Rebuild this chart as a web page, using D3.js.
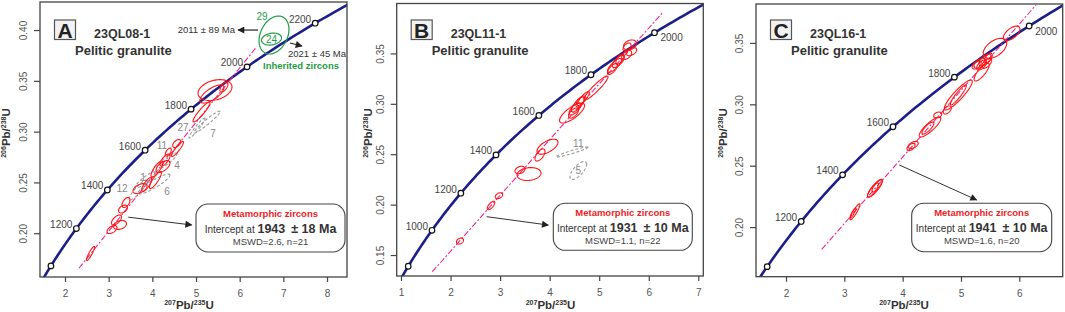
<!DOCTYPE html>
<html><head><meta charset="utf-8">
<script src="https://cdn.jsdelivr.net/npm/d3@7"></script>
<style>
body{margin:0;background:#fff}
svg{display:block;font-family:"Liberation Sans",Arial,sans-serif}
</style>
</head><body>
<svg id="chart" width="1065" height="312"></svg>
<script>
// ---------------- DATA ----------------
const LAMBDA238 = 1.55125e-4; // per Ma
const LAMBDA235 = 9.8485e-4;  // per Ma

const panelIds = ["A", "B", "C"];
const sampleNames = ["23QL08-1", "23QL11-1", "23QL16-1"];
const rockTypes = ["Pelitic granulite", "Pelitic granulite", "Pelitic granulite"];
const interceptAges = [1943, 1931, 1941];
const interceptErrors = [18, 10, 10];
const mswdValues = ["2.6", "1.1", "1.6"];
const nSpots = [21, 22, 20];

const xTicksA = [2, 3, 4, 5, 6, 7, 8];
const yTicksA = [0.20, 0.25, 0.30, 0.35, 0.40];
const xTicksB = [1, 2, 3, 4, 5, 6, 7];
const yTicksB = [0.15, 0.20, 0.25, 0.30, 0.35];
const xTicksC = [2, 3, 4, 5, 6];
const yTicksC = [0.20, 0.25, 0.30, 0.35];

const markerAgesA = [1000, 1200, 1400, 1600, 1800, 2000, 2200];
const markerAgesB = [800, 1000, 1200, 1400, 1600, 1800, 2000];
const markerAgesC = [1000, 1200, 1400, 1600, 1800, 2000];
const labelledAgesA = [1200, 1400, 1600, 1800, 2000, 2200];
const labelledAgesB = [1000, 1200, 1400, 1600, 1800, 2000];
const labelledAgesC = [1200, 1400, 1600, 1800, 2000];

// discordia end points [207Pb/235U, 206Pb/238U]
const discordiaA = [[2.32, 0.1655], [6.39, 0.3836]];
const discordiaB = [[1.684, 0.1267], [6.346, 0.3846]];
const discordiaC = [[2.612, 0.1819], [6.286, 0.3809]];

// error ellipses: [207Pb/235U, sigma, 206Pb/238U, sigma, rho]
const metamorphicA = [
  [5.435, 0.389, 0.3409, 0.0103, 0.3],
  [5.366, 0.275, 0.3370, 0.0089, 0.7],
  [5.641, 0.092, 0.3439, 0.0049, 0.6],
  [5.126, 0.195, 0.3193, 0.0098, 0.92],
  [4.558, 0.092, 0.2883, 0.0039, 0.5],
  [4.576, 0.137, 0.2829, 0.0074, 0.9],
  [4.365, 0.069, 0.2799, 0.0039, 0.6],
  [4.290, 0.114, 0.2720, 0.0059, 0.7],
  [4.244, 0.160, 0.2656, 0.0059, 0.6],
  [4.107, 0.137, 0.2632, 0.0079, 0.8],
  [4.072, 0.137, 0.2524, 0.0084, 0.85],
  [3.871, 0.114, 0.2479, 0.0069, 0.8],
  [3.717, 0.160, 0.2440, 0.0049, 0.5],
  [3.397, 0.092, 0.2302, 0.0049, 0.5],
  [3.328, 0.103, 0.2238, 0.0039, 0.4],
  [3.179, 0.114, 0.2130, 0.0049, 0.6],
  [3.259, 0.149, 0.2081, 0.0044, 0.3],
  [3.076, 0.114, 0.2036, 0.0039, 0.5],
  [2.584, 0.092, 0.1800, 0.0069, 0.9]
];
const excludedA = [
  [5.252, 0.298, 0.3094, 0.0108, 0.96],
  [5.023, 0.183, 0.3035, 0.0098, 0.95],
  [4.038, 0.366, 0.2484, 0.0098, 0.9],
  [3.672, 0.206, 0.2425, 0.0098, 0.9],
  [4.290, 0.275, 0.2701, 0.0089, 0.9],
  [3.832, 0.229, 0.2524, 0.0079, 0.9]
];
const excludedLabelsA = [["27", 4.702, 0.3045], ["7", 5.389, 0.2986], ["11", 4.221, 0.2868],
  ["4", 4.565, 0.2671], ["1", 3.786, 0.2553], ["12", 3.305, 0.2445], ["6", 4.336, 0.2415]];
const inheritedA = [
  [6.786, 0.343, 0.3951, 0.0187, 0.3],
  [6.729, 0.229, 0.3911, 0.0059, 0.2]
];
const inheritedLabelsA = [["29", 6.511, 0.4138], ["24", 6.729, 0.3911]];
const inheritedAges = ["2011 ± 89 Ma", "2021 ± 45 Ma"];

const metamorphicB = [
  [5.674, 0.131, 0.3516, 0.0050, 0.3],
  [5.708, 0.101, 0.3449, 0.0040, 0.5],
  [5.607, 0.101, 0.3417, 0.0045, 0.5],
  [5.614, 0.081, 0.3496, 0.0040, 0.5],
  [5.438, 0.121, 0.3352, 0.0060, 0.7],
  [5.361, 0.141, 0.3313, 0.0069, 0.8],
  [5.321, 0.101, 0.3278, 0.0055, 0.7],
  [5.472, 0.081, 0.3377, 0.0050, 0.6],
  [4.988, 0.242, 0.3089, 0.0119, 0.93],
  [4.631, 0.141, 0.2931, 0.0079, 0.8],
  [4.564, 0.121, 0.2881, 0.0060, 0.7],
  [4.534, 0.101, 0.2841, 0.0050, 0.6],
  [4.732, 0.121, 0.2985, 0.0069, 0.85],
  [4.665, 0.081, 0.2951, 0.0050, 0.6],
  [4.504, 0.252, 0.2841, 0.0099, 0.75],
  [4.009, 0.212, 0.2507, 0.0074, 0.6],
  [3.858, 0.101, 0.2425, 0.0060, 0.6],
  [3.454, 0.101, 0.2276, 0.0037, 0.3],
  [3.636, 0.242, 0.2236, 0.0064, 0.15],
  [3.030, 0.075, 0.2021, 0.0030, 0.4],
  [2.869, 0.077, 0.1924, 0.0042, 0.7],
  [2.243, 0.071, 0.1571, 0.0030, 0.3]
];
const excludedB = [
  [4.503, 0.323, 0.2454, 0.0050, 0.95],
  [4.631, 0.168, 0.2271, 0.0089, 0.7]
];
const excludedLabelsB = [["11", 4.631, 0.2541], ["5", 4.631, 0.2271]];

const metamorphicC = [
  [5.869, 0.142, 0.3578, 0.0059, 0.6],
  [5.583, 0.201, 0.3456, 0.0081, 0.5],
  [5.326, 0.103, 0.3334, 0.0041, 0.5],
  [5.412, 0.103, 0.3361, 0.0049, 0.6],
  [5.468, 0.069, 0.3375, 0.0041, 0.6],
  [5.355, 0.086, 0.3320, 0.0041, 0.6],
  [5.269, 0.077, 0.3320, 0.0033, 0.5],
  [5.441, 0.086, 0.3334, 0.0041, 0.6],
  [5.355, 0.129, 0.3263, 0.0073, 0.8],
  [4.954, 0.240, 0.3076, 0.0122, 0.9],
  [4.954, 0.137, 0.3076, 0.0081, 0.92],
  [4.765, 0.069, 0.2954, 0.0033, 0.5],
  [4.601, 0.069, 0.2913, 0.0024, 0.3],
  [4.469, 0.185, 0.2815, 0.0081, 0.85],
  [4.434, 0.103, 0.2807, 0.0049, 0.8],
  [4.182, 0.086, 0.2669, 0.0029, 0.5],
  [4.143, 0.069, 0.2652, 0.0029, 0.5],
  [3.526, 0.129, 0.2316, 0.0073, 0.85],
  [3.492, 0.094, 0.2302, 0.0057, 0.85],
  [3.560, 0.086, 0.2335, 0.0049, 0.8],
  [3.183, 0.086, 0.2125, 0.0065, 0.9],
  [3.149, 0.051, 0.2115, 0.0041, 0.9]
];

// annotation arrows (data coordinates): [start, end]
const calloutArrowA = [[3.450, 0.2158], [4.901, 0.2081]];
const calloutArrowB = [[2.782, 0.1813], [4.025, 0.1730]];
const calloutArrowC = [[3.942, 0.2506], [5.269, 0.2221]];
const inheritedArrowsA = [[[6.420, 0.400], [5.962, 0.400]], [[7.152, 0.3872], [7.427, 0.3843]]];
const inheritedTextPosA = [[5.893, 0.400], [7.107, 0.3764]];
const inheritedTitlePosA = [6.534, 0.3646];

// ---------------- LAYOUT ----------------
const layouts = [
  {frame: [40, 2, 347, 277], xDomain: [1.4275, 8.4575], yDomain: [0.1569, 0.4276], shift: [0, 0],
   box: [196, 204, 149, 48], yTitleX: 10, xTitleX: 189},
  {frame: [396.7, 3.5, 703.3, 276], xDomain: [0.9132, 7.1009], yDomain: [0.1292, 0.3995], shift: [-2.6, -6.8],
   box: [553.3, 203.3, 139, 47], yTitleX: 372, xTitleX: 550.5},
  {frame: [756, 4, 1062.7, 276.7], xDomain: [1.4857, 6.7439], yDomain: [0.1596, 0.3817], shift: [0, 0],
   box: [911.7, 203.3, 140, 48.4], yTitleX: 727, xTitleX: 904}
];

const svg = d3.select("#chart");
const defs = svg.append("defs");
defs.append("marker").attr("id", "arrowhead").attr("viewBox", "0 0 10 10")
  .attr("refX", 9).attr("refY", 5).attr("markerWidth", 9).attr("markerHeight", 7)
  .attr("markerUnits", "userSpaceOnUse").attr("orient", "auto")
  .append("path").attr("d", "M0,0 L10,5 L0,10 Z").attr("fill", "#222");

const concordia = t => [Math.exp(LAMBDA235 * t) - 1, Math.exp(LAMBDA238 * t) - 1];

function ellipsePoints(e) {
  const [cx, sx, cy, sy, r] = e;
  const k = Math.sqrt(1 - r * r);
  return d3.range(0, 72).map(i => {
    const a = i / 72 * 2 * Math.PI;
    return [cx + sx * Math.cos(a), cy + sy * (r * Math.cos(a) + k * Math.sin(a))];
  });
}

const panelData = [
  {xTicks: xTicksA, yTicks: yTicksA, markers: markerAgesA, labelled: labelledAgesA, rightLabels: [],
   discordia: discordiaA, metamorphic: metamorphicA, excluded: excludedA, excludedLabels: excludedLabelsA,
   arrow: calloutArrowA},
  {xTicks: xTicksB, yTicks: yTicksB, markers: markerAgesB, labelled: labelledAgesB, rightLabels: [2000],
   discordia: discordiaB, metamorphic: metamorphicB, excluded: excludedB, excludedLabels: excludedLabelsB,
   arrow: calloutArrowB},
  {xTicks: xTicksC, yTicks: yTicksC, markers: markerAgesC, labelled: labelledAgesC, rightLabels: [2000],
   discordia: discordiaC, metamorphic: metamorphicC, excluded: [], excludedLabels: [],
   arrow: calloutArrowC}
];

panelIds.forEach((pid, i) => {
  const L = layouts[i], D = panelData[i];
  const [x0, y0, x1, y1] = L.frame;
  const x = d3.scaleLinear().domain(L.xDomain).range([x0, x1]);
  const y = d3.scaleLinear().domain(L.yDomain).range([y1, y0]);
  const g = svg.append("g");

  defs.append("clipPath").attr("id", "clip" + pid)
    .append("rect").attr("x", x0).attr("y", y0).attr("width", x1 - x0).attr("height", y1 - y0);

  const clipped = g.append("g").attr("clip-path", `url(#clip${pid})`);
  const inner = clipped.append("g").attr("transform", `translate(${L.shift[0]},${L.shift[1]})`);
  const line = d3.line().x(d => x(d[0])).y(d => y(d[1]));
  const closed = d3.line().x(d => x(d[0])).y(d => y(d[1])).curve(d3.curveLinearClosed);

  // concordia curve
  inner.append("path").datum(d3.range(0, 3001, 10).map(concordia))
    .attr("d", line).attr("fill", "none").attr("stroke", "#1c1f8a").attr("stroke-width", 2.6);

  // discordia
  inner.append("path").datum(D.discordia).attr("d", line)
    .attr("fill", "none").attr("stroke", "#f0268c").attr("stroke-width", 1.1)
    .attr("stroke-dasharray", "6,2,2,2");

  // excluded (gray dashed)
  inner.selectAll("path.excl").data(D.excluded).enter().append("path")
    .attr("d", d => closed(ellipsePoints(d))).attr("fill", "none")
    .attr("stroke", "#999").attr("stroke-width", 1.1).attr("stroke-dasharray", "3,2");
  inner.selectAll("text.excl").data(D.excludedLabels).enter().append("text")
    .attr("x", d => x(d[1])).attr("y", d => y(d[2])).attr("dy", "0.35em")
    .attr("text-anchor", "middle").attr("font-size", 10).attr("fill", "#888").text(d => d[0]);

  // metamorphic ellipses
  inner.selectAll("path.met").data(D.metamorphic).enter().append("path")
    .attr("d", d => closed(ellipsePoints(d))).attr("fill", "none")
    .attr("stroke", "#ff1414").attr("stroke-width", 1.1);

  // inherited (panel A)
  if (pid === "A") {
    inner.selectAll("path.inh").data(inheritedA).enter().append("path")
      .attr("d", d => closed(ellipsePoints(d))).attr("fill", "none")
      .attr("stroke", "#1f9d45").attr("stroke-width", 1.2);
    inner.selectAll("text.inh").data(inheritedLabelsA).enter().append("text")
      .attr("x", d => x(d[1])).attr("y", d => y(d[2])).attr("dy", "0.35em")
      .attr("text-anchor", "middle").attr("font-size", 10).attr("fill", "#1f9d45").text(d => d[0]);
    inner.selectAll("line.inh").data(inheritedArrowsA).enter().append("line")
      .attr("x1", d => x(d[0][0])).attr("y1", d => y(d[0][1]))
      .attr("x2", d => x(d[1][0])).attr("y2", d => y(d[1][1]))
      .attr("stroke", "#222").attr("stroke-width", 1.2).attr("marker-end", "url(#arrowhead)");
    inner.append("text").attr("x", x(inheritedTextPosA[0][0])).attr("y", y(inheritedTextPosA[0][1]))
      .attr("dy", "0.35em").attr("text-anchor", "end").attr("font-size", 9.5).attr("fill", "#333")
      .text(inheritedAges[0]);
    inner.append("text").attr("x", x(inheritedTextPosA[1][0])).attr("y", y(inheritedTextPosA[1][1]))
      .attr("dy", "0.35em").attr("text-anchor", "start").attr("font-size", 9.5).attr("fill", "#333")
      .text(inheritedAges[1]);
    inner.append("text").attr("x", x(inheritedTitlePosA[0])).attr("y", y(inheritedTitlePosA[1]))
      .attr("dy", "0.35em").attr("font-size", 9.5).attr("font-weight", "bold").attr("fill", "#1f9d45")
      .text("Inherited zircons");
  }

  // concordia age markers
  const mk = D.markers.map(t => ({t, p: concordia(t)}));
  inner.selectAll("circle.mk").data(mk).enter().append("circle")
    .attr("cx", d => x(d.p[0])).attr("cy", d => y(d.p[1])).attr("r", 2.8)
    .attr("fill", "#fff").attr("stroke", "#111").attr("stroke-width", 1.2);
  inner.selectAll("text.mk").data(mk.filter(d => D.labelled.includes(d.t))).enter().append("text")
    .attr("x", d => x(d.p[0]) + (D.rightLabels.includes(d.t) ? 6 : -4))
    .attr("y", d => y(d.p[1]) + (D.rightLabels.includes(d.t) ? 8.5 : -0.5))
    .attr("text-anchor", d => D.rightLabels.includes(d.t) ? "start" : "end")
    .attr("font-size", 10).attr("fill", "#444").text(d => d.t);

  // callout arrow
  inner.append("line").attr("x1", x(D.arrow[0][0])).attr("y1", y(D.arrow[0][1]))
    .attr("x2", x(D.arrow[1][0])).attr("y2", y(D.arrow[1][1]))
    .attr("stroke", "#333").attr("stroke-width", 1).attr("marker-end", "url(#arrowhead)");

  // frame
  g.append("rect").attr("x", x0).attr("y", y0).attr("width", x1 - x0).attr("height", y1 - y0)
    .attr("fill", "none").attr("stroke", "#444").attr("stroke-width", 1.3);

  // axes
  const ax = g.append("g").attr("transform", `translate(0,${y1})`)
    .call(d3.axisBottom(x).tickValues(D.xTicks).tickSize(5).tickSizeOuter(0).tickPadding(8).tickFormat(d3.format("d")));
  ax.select(".domain").remove();
  ax.selectAll("line").attr("stroke", "#444").attr("stroke-width", 1.2);
  ax.selectAll("text").attr("font-size", 10).attr("fill", "#555").attr("font-family", null);

  const ay = g.append("g").attr("transform", `translate(${x0},0)`)
    .call(d3.axisLeft(y).tickValues(D.yTicks).tickSize(6).tickSizeOuter(0).tickFormat(d3.format(".2f")));
  ay.select(".domain").remove();
  ay.selectAll("line").attr("stroke", "#444").attr("stroke-width", 1.2);
  ay.selectAll("text").attr("font-size", 10).attr("fill", "#555").attr("font-family", null)
    .attr("transform", "rotate(-90)").attr("x", 0).attr("y", -13).attr("dy", 0).attr("text-anchor", "middle");

  // axis titles
  const xt = g.append("text").attr("x", L.xTitleX).attr("y", 309).attr("text-anchor", "middle")
    .attr("font-weight", "bold").attr("font-size", 11.5).attr("fill", "#333");
  xt.append("tspan").attr("font-size", 7).attr("dy", -4).text("207");
  xt.append("tspan").attr("dy", 4).text("Pb/");
  xt.append("tspan").attr("font-size", 7).attr("dy", -4).text("235");
  xt.append("tspan").attr("dy", 4).text("U");

  const yt = g.append("text").attr("transform", `translate(${L.yTitleX},133) rotate(-90)`)
    .attr("text-anchor", "middle").attr("font-weight", "bold").attr("font-size", 11.5).attr("fill", "#333");
  yt.append("tspan").attr("font-size", 7).attr("dy", -4).text("206");
  yt.append("tspan").attr("dy", 4).text("Pb/");
  yt.append("tspan").attr("font-size", 7).attr("dy", -4).text("238");
  yt.append("tspan").attr("dy", 4).text("U");

  // panel letter and sample
  g.append("rect").attr("x", x0 + 14.5).attr("y", 20).attr("width", 21).attr("height", 19.5)
    .attr("fill", "#f2f2f2").attr("stroke", "#555").attr("stroke-width", 1.2);
  g.append("text").attr("x", x0 + 25).attr("y", 37.5).attr("text-anchor", "middle")
    .attr("font-weight", "bold").attr("font-size", 21).attr("fill", "#222").text(pid);
  g.append("text").attr("x", x0 + 54).attr("y", 38).attr("font-weight", "bold")
    .attr("font-size", 12.5).attr("fill", "#333").text(sampleNames[i]);
  g.append("text").attr("x", x0 + 35).attr("y", 55).attr("font-weight", "bold")
    .attr("font-size", 13).attr("fill", "#333").text(rockTypes[i]);

  // result box
  const [bx, by, bw, bh] = L.box;
  g.append("rect").attr("x", bx).attr("y", by).attr("width", bw).attr("height", bh)
    .attr("rx", 12).attr("ry", 12).attr("fill", "#fff").attr("stroke", "#444").attr("stroke-width", 1.1);
  const cxBox = bx + bw / 2;
  g.append("text").attr("x", cxBox).attr("y", by + 13).attr("text-anchor", "middle")
    .attr("font-weight", "bold").attr("font-size", 9.5).attr("fill", "#ee1c25").text("Metamorphic zircons");
  const t2 = g.append("text").attr("x", cxBox).attr("y", by + 28.5).attr("text-anchor", "middle").attr("fill", "#333");
  t2.append("tspan").attr("font-size", 10).text("Intercept at ");
  t2.append("tspan").attr("font-size", 12.5).attr("font-weight", "bold").text(interceptAges[i]);
  t2.append("tspan").attr("font-size", 12.5).attr("font-weight", "bold").attr("dx", 6)
    .text(`± ${interceptErrors[i]} Ma`);
  g.append("text").attr("x", cxBox).attr("y", by + 41).attr("text-anchor", "middle")
    .attr("font-size", 9.5).attr("fill", "#444").text(`MSWD=${mswdValues[i]}, n=${nSpots[i]}`);
});
</script>
</body></html>
